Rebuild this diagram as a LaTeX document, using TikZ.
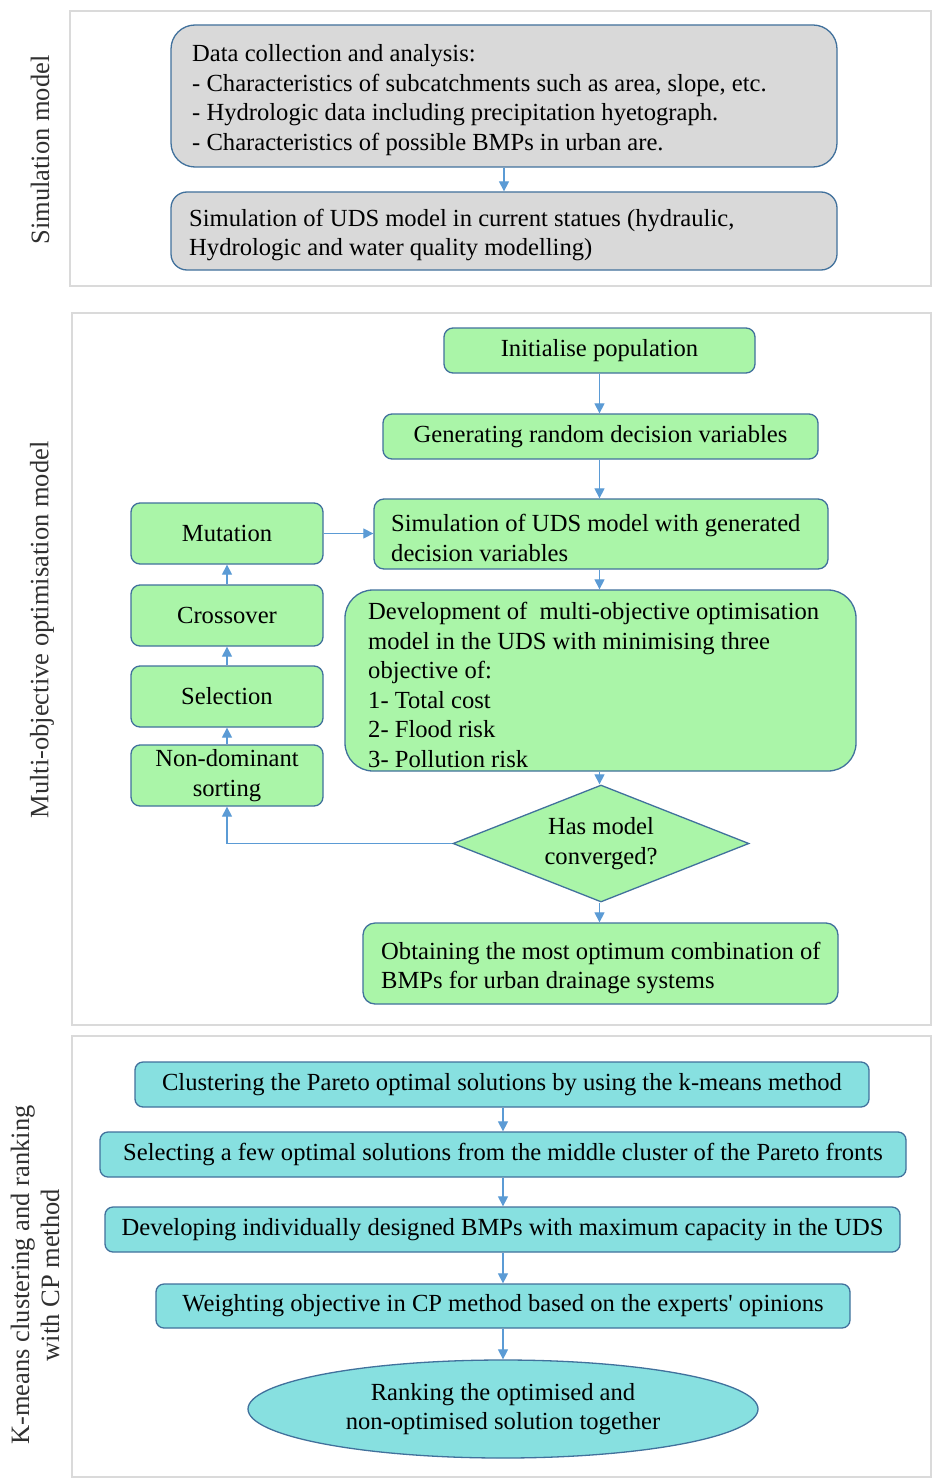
\documentclass[tikz,border=0pt]{standalone}
\usepackage{fontspec}
\setmainfont{Liberation Serif}[Ligatures=TeXOff]
\usetikzlibrary{shapes.geometric,arrows.meta}
\definecolor{gfill}{HTML}{D9D9D9}
\definecolor{bord}{HTML}{41719C}
\definecolor{grn}{HTML}{AAF5A8}
\definecolor{cyn}{HTML}{87E0E0}
\definecolor{arr}{HTML}{5B9BD5}
\definecolor{panelc}{HTML}{DADADA}
\definecolor{lblc}{HTML}{303030}
\begin{document}
\begin{tikzpicture}[x=1pt,y=-1pt,
  box/.style={draw=bord, line width=1.3pt, inner sep=0pt, font=\fontsize{24.6}{29.5}\selectfont, align=center},
  gbox/.style={box, fill=grn, rounded corners=9pt},
  cbox/.style={box, fill=cyn, rounded corners=8pt},
  txt/.style={inner sep=0pt, anchor=west, align=left, font=\fontsize{24.6}{29.5}\selectfont},
  conn/.style={draw=arr, line width=1.2pt, -{Triangle[length=10pt,width=10pt]}},
  panelbox/.style={draw=panelc, line width=1.5pt},
  sidelbl/.style={rotate=90, align=center, text=lblc, font=\fontsize{26.5}{30}\selectfont, inner sep=0pt}
]
\useasboundingbox[fill=white] (0,0) rectangle (932,1479);

% panels
\draw[panelbox] (70,11) rectangle (931,286);
\draw[panelbox] (72,313) rectangle (931,1025);
\draw[panelbox] (72,1036) rectangle (931,1477);

\node[sidelbl] (l1) at (40,150) {Simulation model};
\node[sidelbl] (l2) at (42,630) {Multi-objective optimisation model};
\node[sidelbl] (l3) at (35,1275) {K-means clustering and ranking\\with CP method};

% panel 1
\node[box, fill=gfill, rounded corners=24pt, minimum width=666pt, minimum height=142pt] (b1) at (504,96) {};
\node[txt] (t1) at (192,100) {Data collection and analysis:\\- Characteristics of subcatchments such as area, slope, etc.\\- Hydrologic data including precipitation hyetograph.\\- Characteristics of possible BMPs in urban are.};
\node[box, fill=gfill, rounded corners=16pt, minimum width=666pt, minimum height=78pt] (b2) at (504,231) {};
\node[txt] (t2) at (189,235) {Simulation of UDS model in current statues (hydraulic,\\Hydrologic and water quality modelling)};
\draw[conn] (b1.south) -- (b2.north);

% panel 2
\node[gbox, minimum width=311pt, minimum height=45pt] (init) at (599.5,350.5) {Initialise population};
\node[gbox, minimum width=435pt, minimum height=45pt] (gen) at (600.5,436.5) {Generating random decision variables};
\node[gbox, rounded corners=10pt, minimum width=454pt, minimum height=70pt] (sim) at (601,534) {};
\node[txt] (tsim) at (391,538) {Simulation of UDS model with generated\\decision variables};
\node[gbox, rounded corners=28pt, minimum width=511pt, minimum height=181pt] (dev) at (600.5,680.5) {};
\node[txt] (tdev) at (368,685) {Development of~ multi-objective optimisation\\model in the UDS with minimising three\\objective of:\\1- Total cost\\2- Flood risk\\3- Pollution risk};
\node[box, fill=grn, shape=diamond, shape aspect=2.53, minimum width=296pt, minimum height=117pt] (dia) at (601,843.5) {Has model\\converged?};
\node[gbox, rounded corners=12pt, minimum width=475pt, minimum height=81pt] (obt) at (600.5,963.5) {};
\node[txt] (tobt) at (381,968) {Obtaining the most optimum combination of\\BMPs for urban drainage systems};

\node[gbox, minimum width=192pt, minimum height=61pt] (mut) at (227,533.5) {Mutation};
\node[gbox, minimum width=192pt, minimum height=61pt] (cro) at (227,615.5) {Crossover};
\node[gbox, minimum width=192pt, minimum height=61pt] (sel) at (227,696.5) {Selection};
\node[gbox, minimum width=192pt, minimum height=61pt] (nds) at (227,775.5) {Non-dominant\\sorting};

\draw[conn] (init.south) -- (init.south |- gen.north);
\draw[conn] (gen.south -| init.south) -- (init.south |- sim.north);
\draw[conn] (sim.south -| init.south) -- (init.south |- dev.north);
\draw[conn] (dev.south -| init.south) -- (init.south |- dia.north);
\draw[conn] (dia.south -| init.south) -- (init.south |- obt.north);
\draw[conn] (mut.east) -- (mut.east -| sim.west);
\draw[conn] (cro) -- (mut);
\draw[conn] (sel) -- (cro);
\draw[conn] (nds) -- (sel);
\draw[conn] (dia.west) -| (nds.south);

% panel 3
\node[cbox, minimum width=734pt, minimum height=45pt] (clu) at (502,1084.5) {Clustering the Pareto optimal solutions by using the k-means method};
\node[cbox, minimum width=806pt, minimum height=45pt] (sfew) at (503,1154.5) {Selecting a few optimal solutions from the middle cluster of the Pareto fronts};
\node[cbox, minimum width=795pt, minimum height=45pt] (dind) at (502.5,1229.5) {Developing individually designed BMPs with maximum capacity in the UDS};
\node[cbox, minimum width=694pt, minimum height=44pt] (wt) at (503,1306) {Weighting objective in CP method based on the experts' opinions};
\node[box, fill=cyn, shape=ellipse, minimum width=510pt, minimum height=98pt] (rank) at (503,1409) {Ranking the optimised and\\non-optimised solution together};

\draw[conn] (clu.south -| rank.north) -- (sfew.north -| rank.north);
\draw[conn] (sfew.south -| rank.north) -- (dind.north -| rank.north);
\draw[conn] (dind.south -| rank.north) -- (wt.north -| rank.north);
\draw[conn] (wt.south -| rank.north) -- (rank.north);
\end{tikzpicture}
\end{document}
